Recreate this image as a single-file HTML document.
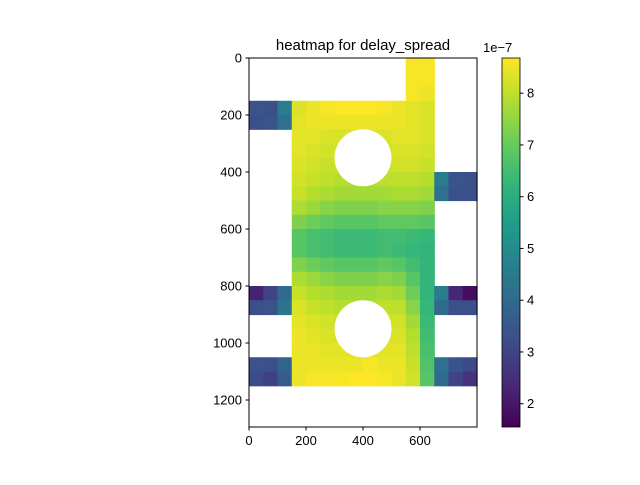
<!DOCTYPE html>
<html><head><meta charset="utf-8"><style>
body{margin:0;background:#fff;font-family:"Liberation Sans",sans-serif}
</style></head><body>
<svg id="c" width="640" height="480" xmlns="http://www.w3.org/2000/svg" font-family="Liberation Sans, sans-serif">
<rect width="640" height="480" fill="#fff"/>
<g id="cells"></g>
<g id="holes"></g>
<rect x="249" y="58" width="228" height="369" fill="none" stroke="#000" stroke-width="1"/>
<g id="axes" font-size="13" fill="#000"></g>
<text x="363" y="50" text-anchor="middle" font-size="15">heatmap for delay_spread</text>
<defs><linearGradient id="vg" x1="0" y1="1" x2="0" y2="0"></linearGradient></defs>
<rect x="502" y="58" width="18" height="369" fill="url(#vg)" stroke="#000" stroke-width="0.8"/>
<g id="cbar" font-size="13"></g>
<text x="483" y="52" font-size="13">1e−7</text>
</svg>
<script>
const xTicks=[0,200,400,600];
const yTicks=[0,200,400,600,800,1000,1200];
const cbTicks=[2,3,4,5,6,7,8];
const xCenters=[25,75,125,175,225,275,325,375,425,475,525,575,625,675,725,775];
const yCenters=[25,75,125,175,225,275,325,375,425,475,525,575,625,675,725,775,825,875,925,975,1025,1075,1125];
const N=null;
const row00=[N,N,N,N,N,N,N,N,N,N,N,8.6,8.6,N,N,N];
const row01=[N,N,N,N,N,N,N,N,N,N,N,8.6,8.6,N,N,N];
const row02=[N,N,N,N,N,N,N,N,N,N,N,8.6,8.5,N,N,N];
const row03=[3.4,3.3,4.5,8.3,8.5,8.6,8.7,8.7,8.7,8.6,8.5,8.4,8.3,N,N,N];
const row04=[3.3,3.4,4.2,8.4,8.5,8.5,8.5,8.5,8.5,8.5,8.5,8.4,8.3,N,N,N];
const row05=[N,N,N,8.4,8.4,8.3,8.3,8.3,8.3,8.3,8.4,8.4,8.3,N,N,N];
const row06=[N,N,N,8.4,8.3,8.2,8.2,8.2,8.2,8.2,8.3,8.3,8.2,N,N,N];
const row07=[N,N,N,8.3,8.2,8.1,8.1,8.1,8.1,8.1,8.2,8.2,8.1,N,N,N];
const row08=[N,N,N,8.2,8.1,8.0,7.9,7.9,7.9,8.0,8.0,8.0,7.9,4.5,3.4,3.3];
const row09=[N,N,N,8.1,7.9,7.8,7.7,7.7,7.7,7.7,7.8,7.8,7.7,4.2,3.3,3.3];
const row10=[N,N,N,7.8,7.6,7.4,7.3,7.3,7.3,7.4,7.4,7.4,7.3,N,N,N];
const row11=[N,N,N,7.3,7.1,6.9,6.8,6.8,6.8,6.9,6.9,6.9,6.8,N,N,N];
const row12=[N,N,N,6.8,6.6,6.5,6.4,6.4,6.4,6.5,6.5,6.4,6.3,N,N,N];
const row13=[N,N,N,6.8,6.6,6.5,6.4,6.4,6.4,6.5,6.4,6.3,6.2,N,N,N];
const row14=[N,N,N,7.3,7.1,6.9,6.8,6.8,6.8,6.9,6.8,6.5,6.2,N,N,N];
const row15=[N,N,N,7.8,7.6,7.4,7.3,7.3,7.3,7.4,7.3,6.8,6.2,N,N,N];
const row16=[2.2,3.0,4.0,8.1,7.9,7.8,7.7,7.7,7.7,7.8,7.7,7.1,6.2,4.5,2.3,1.8];
const row17=[3.3,3.4,4.3,8.3,8.1,8.0,7.9,7.9,7.9,8.0,8.0,7.4,6.3,4.0,3.3,3.3];
const row18=[N,N,N,8.4,8.3,8.2,8.1,8.1,8.1,8.2,8.2,7.7,6.4,N,N,N];
const row19=[N,N,N,8.5,8.4,8.3,8.2,8.2,8.2,8.3,8.3,7.9,6.5,N,N,N];
const row20=[N,N,N,8.5,8.5,8.4,8.4,8.4,8.4,8.4,8.4,8.0,6.6,N,N,N];
const row21=[3.4,3.3,3.8,8.5,8.5,8.5,8.5,8.5,8.6,8.5,8.5,8.1,6.7,4.2,3.4,3.2];
const row22=[3.2,2.9,3.6,8.5,8.6,8.6,8.6,8.7,8.7,8.6,8.5,8.2,6.8,4.0,3.0,2.6];
const grid=[row00,row01,row02,row03,row04,row05,row06,row07,row08,row09,row10,row11,row12,row13,row14,row15,row16,row17,row18,row19,row20,row21,row22];
const holeX=[400,400];
const holeY=[350,950];
const holeR=[100,100];
const vmin=1.55, vmax=8.68, cell=50;

const X0=249,Y0=58,S=228/800;
const sx=v=>X0+v*S, sy=v=>Y0+v*S;
const cbY=v=>427-(v-vmin)/(vmax-vmin)*369;
const vir=[[68,1,84],[72,40,120],[62,74,137],[49,104,142],[38,130,142],[31,158,137],[53,183,121],[109,205,89],[180,222,44],[253,231,37]];
function color(v){let t=Math.max(0,Math.min(1,(v-vmin)/(vmax-vmin)))*(vir.length-1);let i=Math.min(Math.floor(t),vir.length-2),f=t-i;
 const c=vir[i].map((a,k)=>Math.round(a+(vir[i+1][k]-a)*f));return `rgb(${c})`;}
const NS="http://www.w3.org/2000/svg";
function mk(tag,at,parent){const e=document.createElementNS(NS,tag);for(const k in at)e.setAttribute(k,at[k]);parent.appendChild(e);return e;}
const cells=document.getElementById('cells');
grid.forEach((row,r)=>row.forEach((v,c)=>{if(v===null)return;
 const e=mk('rect',{x:sx(xCenters[c]-cell/2),y:sy(yCenters[r]-cell/2),width:cell*S+0.6,height:cell*S+0.6,fill:color(v)},cells);
 
 }));
const holes=document.getElementById('holes');
holeX.forEach((hx,i)=>{const e=mk('circle',{cx:sx(hx),cy:sy(holeY[i]),r:holeR[i]*S,fill:'#fff'},holes);
 
 });
const ax=document.getElementById('axes');
xTicks.forEach(t=>{const l=mk('line',{x1:sx(t),x2:sx(t),y1:427,y2:430.5,stroke:'#000'},ax);
 
 
 const tx=mk('text',{x:sx(t),y:445,'text-anchor':'middle'},ax);tx.textContent=t;
 
 });
yTicks.forEach(t=>{const l=mk('line',{x1:245.5,x2:249,y1:sy(t),y2:sy(t),stroke:'#000'},ax);
 
 
 const tx=mk('text',{x:242,y:sy(t)+4.5,'text-anchor':'end'},ax);tx.textContent=t;
 
 });
const g=document.getElementById('vg');
for(let i=0;i<=20;i++){const v=vmin+(vmax-vmin)*i/20;mk('stop',{offset:(i*5)+'%','stop-color':color(v)},g);}
const cb=document.getElementById('cbar');
cbTicks.forEach(t=>{const l=mk('line',{x1:520,x2:523.5,y1:cbY(t),y2:cbY(t),stroke:'#000'},cb);
 
 
 const tx=mk('text',{x:527,y:cbY(t)+4.5},cb);tx.textContent=t;
 
 });
</script>
</body></html>
